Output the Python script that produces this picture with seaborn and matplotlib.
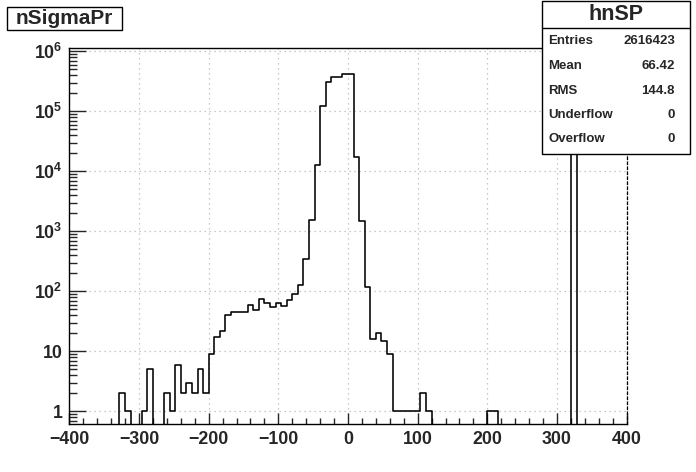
import numpy as np
import pandas as pd
import matplotlib
matplotlib.use("Agg")
import matplotlib.pyplot as plt
from matplotlib.patches import Rectangle
from matplotlib.ticker import FixedLocator, MultipleLocator, FuncFormatter, LogLocator
import seaborn as sns

# ---- data ----
hist_name = "hnSP"
title = "nSigmaPr"
x_min, x_max, n_bins = -400, 400, 100
counts = [
    0, 0, 0, 0, 0, 0, 0, 0, 0, 2,          # bins 0-9
    1, 0, 0, 1, 5, 0, 0, 2, 1, 6,          # 10-19
    2, 3, 2, 5, 2, 9, 17, 22, 40, 46,      # 20-29
    46, 46, 58, 49, 74, 65, 54, 65, 56, 71,  # 30-39
    89, 126, 341, 1525, 12590, 121200, 304400, 368800, 368800, 423400,  # 40-49
    414000, 17100, 1468, 117, 16, 20, 15, 9, 1, 1,  # 50-59
    1, 1, 1, 2, 1, 0, 0, 0, 0, 0,          # 60-69
    0, 0, 0, 0, 0, 1, 1, 0, 0, 0,          # 70-79
    0, 0, 0, 0, 0, 0, 0, 0, 0, 0,          # 80-89
    613000, 0, 0, 0, 0, 0, 0, 0, 0, 0,     # 90-99
]
stat_labels = ["Entries", "Mean", "RMS", "Underflow", "Overflow"]
stat_values = ["2616423", "66.42", "144.8", "0", "0"]

# ---- style ----
sns.set_style("white")
plt.rcParams["font.family"] = ["Liberation Sans", "DejaVu Sans"]
plt.rcParams["font.weight"] = "bold"
plt.rcParams["mathtext.fontset"] = "custom"
plt.rcParams["mathtext.rm"] = "Liberation Sans:bold"
plt.rcParams["mathtext.bf"] = "Liberation Sans:bold"
plt.rcParams["mathtext.default"] = "rm"

W, H = 696, 472
fig = plt.figure(figsize=(W / 100, H / 100), dpi=100)
ax = fig.add_axes([69.3 / W, 1 - 424 / H, (626.7 - 69.3) / W, (424 - 47.7) / H])

bin_w = (x_max - x_min) / n_bins
centers = x_min + bin_w * (np.arange(n_bins) + 0.5)
df = pd.DataFrame({"nSigmaPr": centers, "count": counts})

sns.histplot(data=df, x="nSigmaPr", weights="count", binwidth=bin_w,
             binrange=(x_min, x_max), element="step", fill=False,
             color="black", linewidth=1.15, ax=ax)

ax.set_yscale("log")
ax.set_xlim(x_min, x_max)
ax.set_ylim(0.614, 1.148e6)
ax.set_xlabel("")
ax.set_ylabel("")

# ticks
ax.xaxis.set_major_locator(MultipleLocator(100))
ax.xaxis.set_minor_locator(MultipleLocator(20))
ax.yaxis.set_major_locator(FixedLocator([1, 10, 1e2, 1e3, 1e4, 1e5, 1e6]))
ax.yaxis.set_minor_locator(LogLocator(base=10, subs=np.arange(2, 10), numticks=20))


def yfmt(v, pos):
    e = int(round(np.log10(v)))
    if e == 0:
        return "1"
    if e == 1:
        return "10"
    return "$10^{%d}$" % e


ax.yaxis.set_major_formatter(FuncFormatter(yfmt))
ax.yaxis.set_minor_formatter(FuncFormatter(lambda v, p: ""))
ax.tick_params(axis="x", which="major", direction="in", length=8, width=1, pad=4.8,
               labelsize=12.8, top=False, bottom=True)
ax.tick_params(axis="x", which="minor", direction="in", length=4.3, width=1,
               top=False, bottom=True)
ax.tick_params(axis="y", which="major", direction="in", length=12, width=1, pad=5,
               labelsize=12.8, left=True, right=False)
ax.tick_params(axis="y", which="minor", direction="in", length=5.5, width=1,
               left=True, right=False)
for lab in ax.get_xticklabels() + ax.get_yticklabels():
    lab.set_fontweight("bold")

ax.grid(True, which="major", color="#b8b8b8", linestyle=(0, (1, 3)), linewidth=0.9)
for s in ["left", "bottom", "top"]:
    ax.spines[s].set_color("black")
    ax.spines[s].set_linewidth(1.0)
ax.spines["right"].set_color("black")
ax.spines["right"].set_linewidth(0.9)
ax.spines["right"].set_linestyle((0, (2, 2)))


def fx(px):
    return px / W


def fy(py):
    return 1 - py / H


# title box
fig.patches.append(Rectangle((fx(6.7), fy(30)), fx(122.3) - fx(6.7), fy(7.3) - fy(30),
                             transform=fig.transFigure, facecolor="white",
                             edgecolor="black", linewidth=1.0, zorder=5))
fig.text(fx(64.5), fy(18.6), title, ha="center", va="center", fontsize=15,
         fontweight="bold", zorder=6)

# stats box
bx0, bx1, by0, by1 = 541.7, 690, 1, 154
fig.patches.append(Rectangle((fx(bx0), fy(by1)), fx(bx1) - fx(bx0), fy(by0) - fy(by1),
                             transform=fig.transFigure, facecolor="white",
                             edgecolor="black", linewidth=1.0, zorder=5))
fig.add_artist(plt.Line2D([fx(bx0), fx(bx1)], [fy(28.3), fy(28.3)],
                          transform=fig.transFigure, color="black", linewidth=1.0, zorder=6))
fig.text(fx((bx0 + bx1) / 2), fy(15), hist_name, ha="center", va="center",
         fontsize=15.5, fontweight="bold", zorder=6)
row_y = [41, 66, 90.5, 115, 139.5]
for lab, val, yy in zip(stat_labels, stat_values, row_y):
    fig.text(fx(548.3), fy(yy), lab, ha="left", va="center", fontsize=9.5,
             fontweight="bold", zorder=6)
    fig.text(fx(675), fy(yy), val, ha="right", va="center", fontsize=9.5,
             fontweight="bold", zorder=6)

fig.savefig("out.png", dpi=100)
